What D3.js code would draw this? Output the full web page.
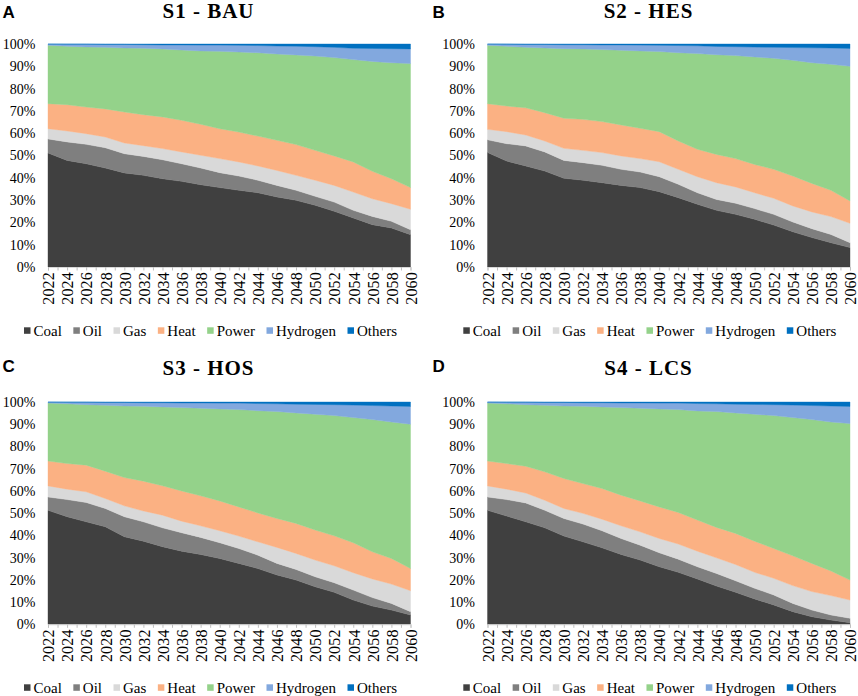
<!DOCTYPE html>
<html>
<head>
<meta charset="utf-8">
<script src="https://cdn.jsdelivr.net/npm/d3@7"></script>
<style>
  html, body { margin: 0; padding: 0; background: #fff; }
  svg { display: block; }
</style>
</head>
<body>
<svg id="chart" width="858" height="696"></svg>
<script>
// ---------- DATA ----------
const years = [2022,2024,2026,2028,2030,2032,2034,2036,2038,2040,2042,2044,2046,2048,2050,2052,2054,2056,2058,2060];
const seriesNames = ["Coal","Oil","Gas","Heat","Power","Hydrogen","Others"];
const seriesColors = ["#404040","#7f7f7f","#d9d9d9","#fbb183","#94d28a","#82a8de","#0070c0"];
const yTickLabels = ["0%","10%","20%","30%","40%","50%","60%","70%","80%","90%","100%"];

// S1 - BAU (shares, %)
const s1Coal  = [51.1,47.8,46.3,44.4,42.2,41.1,39.6,38.4,36.9,35.6,34.4,33.3,31.4,29.9,27.7,25.0,22.0,19.0,17.5,14.5];
const s1Oil   = [6.3,8.3,8.7,9.1,8.6,8.5,8.5,7.9,7.5,6.7,6.4,5.6,5.2,4.5,4.0,4.1,3.4,3.7,3.0,2.2];
const s1Gas   = [4.6,4.9,4.8,4.8,4.8,4.8,5.0,5.3,5.7,6.3,6.3,6.4,6.7,6.7,7.2,7.5,8.2,7.9,7.9,9.2];
const s1Heat  = [11.2,11.8,11.9,12.6,13.9,13.9,14.2,14.2,13.9,13.4,13.4,13.4,13.5,13.8,13.4,13.2,13.5,12.3,11.2,9.7];
const s1Power = [26.2,26.2,27.0,27.6,28.7,29.8,30.5,31.5,32.9,34.7,35.9,37.4,38.7,40.2,42.3,44.1,45.9,49.3,52.0,55.6];
const s1Hyd   = [0.5,0.9,1.2,1.3,1.6,1.6,1.8,2.3,2.6,2.8,3.0,3.2,3.6,3.9,4.2,4.6,5.1,5.8,6.3,6.6];
const s1Oth   = [0.05,0.1,0.1,0.2,0.2,0.3,0.4,0.4,0.5,0.5,0.6,0.7,0.9,1.0,1.2,1.5,1.9,2.0,2.1,2.2];

// S2 - HES
const s2Coal  = [51.3,47.5,45.3,43.0,39.8,38.9,37.8,36.6,35.6,33.8,31.1,28.1,25.4,23.6,21.4,18.8,15.8,13.2,10.9,8.7];
const s2Oil   = [5.7,7.8,9.0,8.6,8.0,7.9,7.8,7.2,7.0,6.7,6.0,5.2,4.9,5.0,4.8,4.8,4.4,4.0,3.7,2.2];
const s2Gas   = [4.7,5.4,4.9,4.9,5.4,5.5,5.7,6.0,6.0,6.7,6.7,7.2,7.5,7.3,7.1,7.2,7.2,7.5,8.0,8.7];
const s2Heat  = [11.5,11.5,12.2,12.7,13.5,13.9,13.9,13.9,13.6,13.5,12.7,12.3,12.7,12.7,12.7,13.0,13.4,12.8,11.8,10.0];
const s2Power = [26.2,26.8,27.1,29.0,31.2,31.6,32.3,33.5,34.7,35.9,39.6,42.9,44.7,46.2,48.2,49.8,51.9,54.1,56.5,60.4];
const s2Hyd   = [0.5,0.9,1.3,1.6,1.8,1.9,2.1,2.4,2.6,2.8,3.2,3.5,3.7,4.0,4.4,4.9,5.7,6.7,7.3,8.0];
const s2Oth   = [0.05,0.1,0.2,0.2,0.3,0.3,0.4,0.4,0.5,0.6,0.7,0.8,1.1,1.2,1.4,1.5,1.6,1.7,1.8,2.0];

// S3 - HOS
const s3Coal  = [51.3,48.4,46.1,43.9,39.4,37.4,34.9,32.9,31.4,29.6,27.4,25.1,22.2,19.9,16.9,14.4,10.9,8.2,6.4,4.2];
const s3Oil   = [6.0,7.7,8.7,8.2,9.0,8.7,8.5,8.3,7.7,7.1,6.7,6.0,5.2,4.8,4.5,4.3,4.5,3.8,3.0,1.5];
const s3Gas   = [5.0,4.7,4.8,4.5,4.9,4.9,5.7,5.2,5.2,5.4,5.6,6.0,7.2,7.2,7.5,7.6,7.8,8.4,8.7,9.4];
const s3Heat  = [11.2,11.5,12.0,12.3,12.7,13.4,13.2,13.6,13.5,13.4,13.1,13.0,13.0,13.5,13.5,13.5,13.5,12.2,11.5,10.0];
const s3Power = [26.1,26.9,27.2,29.6,32.2,33.7,35.5,37.5,39.4,41.4,43.8,46.0,48.1,49.7,52.1,54.1,56.3,59.5,61.4,64.9];
const s3Hyd   = [0.4,0.7,1.1,1.3,1.6,1.6,1.9,2.1,2.4,2.6,2.9,3.2,3.5,3.9,4.4,4.9,5.6,6.3,7.2,8.0];
const s3Oth   = [0.05,0.1,0.1,0.2,0.2,0.3,0.3,0.4,0.4,0.5,0.5,0.7,0.8,1.0,1.1,1.2,1.4,1.6,1.8,2.0];

// S4 - LCS
const s4Coal  = [51.3,48.7,46.1,43.4,39.7,37.1,34.4,31.4,28.9,25.9,23.4,20.4,17.2,14.4,11.4,8.7,5.7,3.4,1.9,0.7];
const s4Oil   = [6.0,7.4,8.5,7.9,7.9,8.0,7.7,7.2,6.7,6.3,5.9,5.5,5.7,5.2,4.8,4.5,3.7,3.0,2.3,2.0];
const s4Gas   = [5.0,4.7,4.5,4.5,4.5,4.8,5.2,5.7,6.0,6.4,6.8,7.0,7.0,7.3,7.2,7.5,8.0,8.3,8.7,8.2];
const s4Heat  = [11.2,11.5,12.0,12.8,13.5,13.4,13.8,13.8,13.9,14.2,14.2,14.0,13.7,14.0,14.0,13.4,13.4,12.7,11.1,9.0];
const s4Power = [26.1,26.9,27.7,29.9,32.6,34.8,36.7,39.4,41.7,44.1,46.3,49.1,52.1,54.2,57.1,59.8,62.2,64.7,67.0,70.4];
const s4Hyd   = [0.4,0.7,1.1,1.3,1.6,1.6,1.9,2.1,2.4,2.6,2.9,3.3,3.5,3.9,4.4,4.9,5.6,6.3,7.2,7.7];
const s4Oth   = [0.05,0.1,0.1,0.2,0.2,0.3,0.3,0.4,0.4,0.5,0.5,0.7,0.8,1.0,1.1,1.2,1.4,1.6,1.8,2.0];

const panels = [
  { letter: "A", title: "S1 - BAU", series: [s1Coal,s1Oil,s1Gas,s1Heat,s1Power,s1Hyd,s1Oth], col: 0, row: 0 },
  { letter: "B", title: "S2 - HES", series: [s2Coal,s2Oil,s2Gas,s2Heat,s2Power,s2Hyd,s2Oth], col: 1, row: 0 },
  { letter: "C", title: "S3 - HOS", series: [s3Coal,s3Oil,s3Gas,s3Heat,s3Power,s3Hyd,s3Oth], col: 0, row: 1 },
  { letter: "D", title: "S4 - LCS", series: [s4Coal,s4Oil,s4Gas,s4Heat,s4Power,s4Hyd,s4Oth], col: 1, row: 1 }
];

// ---------- LAYOUT ----------
const colLayout = [
  { x0: 48,    x1: 410.5, titleX: 208.5, letterX: 2.5,  legendX: 24 },
  { x0: 487.5, x1: 850,   titleX: 648.5, letterX: 432.5, legendX: 463.3 }
];
const rowLayout = [
  { yTop: 44,  yBot: 267,   titleY: 18.3, letterY: 17.5,  legendY: 335.5 },
  { yTop: 402, yBot: 624.3, titleY: 375,  letterY: 372,   legendY: 692.5 }
];

const serif = "'Liberation Serif','Times New Roman',serif";
const sans = "'Liberation Sans',Arial,sans-serif";
const svg = d3.select("#chart");
const allYears = d3.range(years[0], years[years.length-1] + 1);

panels.forEach(p => {
  const C = colLayout[p.col], R = rowLayout[p.row];
  const g = svg.append("g");

  const x = d3.scaleLinear().domain([years[0], years[years.length-1]]).range([C.x0, C.x1]);
  const y = d3.scaleLinear().domain([0, 1]).range([R.yBot, R.yTop]);

  const rows = years.map((yr, i) => {
    const o = { year: yr };
    seriesNames.forEach((n, k) => o[n] = p.series[k][i]);
    return o;
  });
  const stack = d3.stack().keys(seriesNames).offset(d3.stackOffsetExpand);
  const layers = stack(rows);

  const area = d3.area()
    .x(d => x(d.data.year))
    .y0(d => y(d[0]))
    .y1(d => y(d[1]));

  g.selectAll("path.layer").data(layers).join("path")
    .attr("class", "layer")
    .attr("d", area)
    .attr("fill", (d, i) => seriesColors[i])
    .attr("stroke", (d, i) => seriesColors[i])
    .attr("stroke-width", 0.4);

  // x axis
  const xAxis = d3.axisBottom(x)
    .tickValues(allYears)
    .tickSize(3.5)
    .tickFormat(d => d % 2 === 0 ? String(d) : "");
  const xa = g.append("g").attr("transform", `translate(0,${R.yBot})`).call(xAxis);
  xa.select(".domain").attr("stroke", "#d9d9d9").attr("stroke-width", 1);
  xa.selectAll(".tick line").attr("stroke", "#bfbfbf");
  xa.selectAll(".tick text")
    .attr("transform", "rotate(-90)")
    .attr("x", -5)
    .attr("y", 0)
    .attr("dy", "0.36em")
    .attr("text-anchor", "end")
    .attr("fill", "#000")
    .style("font-family", serif)
    .style("font-size", "16px")
    .style("letter-spacing", "0.2px");

  // y axis
  const yAxis = d3.axisLeft(y)
    .tickValues(d3.range(0, 11).map(v => v / 10))
    .tickSize(0)
    .tickPadding(12.5)
    .tickFormat((d, i) => yTickLabels[i]);
  const ya = g.append("g").attr("transform", `translate(${C.x0},0)`).call(yAxis);
  ya.select(".domain").remove();
  ya.selectAll(".tick text")
    .attr("fill", "#000")
    .style("font-family", serif)
    .style("font-size", "14px");

  // title
  g.append("text")
    .attr("x", C.titleX).attr("y", R.titleY)
    .attr("text-anchor", "middle")
    .style("font-family", serif)
    .style("font-weight", "bold")
    .style("font-size", "21px")
    .style("letter-spacing", "1px")
    .text(p.title);

  // panel letter
  g.append("text")
    .attr("x", C.letterX).attr("y", R.letterY)
    .style("font-family", sans)
    .style("font-weight", "bold")
    .style("font-size", "17px")
    .text(p.letter);

  // legend
  const lg = g.append("g");
  let cx = C.legendX;
  seriesNames.forEach((n, i) => {
    lg.append("rect")
      .attr("x", cx).attr("y", R.legendY - 8.2)
      .attr("width", 6.5).attr("height", 6.5)
      .attr("fill", seriesColors[i]);
    const t = lg.append("text")
      .attr("x", cx + 9.5).attr("y", R.legendY)
      .style("font-family", serif)
      .style("font-size", "15px")
      .attr("fill", "#000")
      .text(n);
    const w = t.node().getComputedTextLength();
    cx += 9.5 + w + 11.5;
  });
});
</script>
</body>
</html>
